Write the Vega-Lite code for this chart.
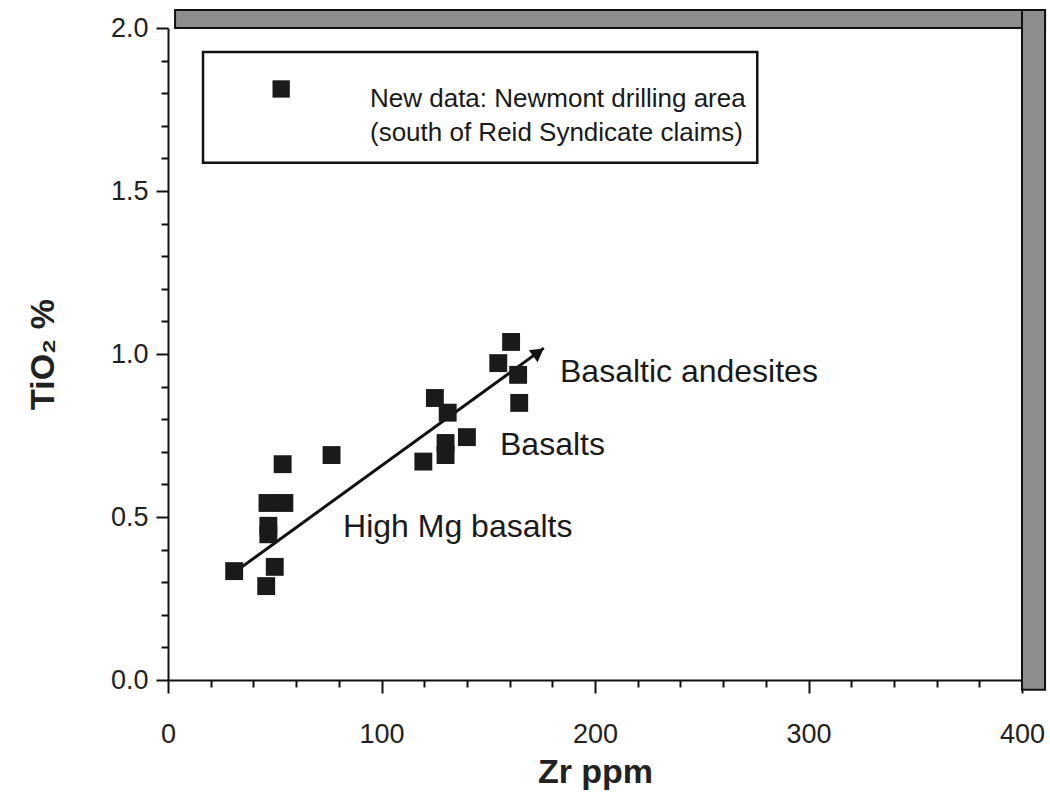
{
  "$schema": "https://vega.github.io/schema/vega-lite/v6.json",
  "width": 854,
  "height": 652,
  "autosize": {"type": "none"},
  "padding": {"left": 168, "top": 28, "right": 28, "bottom": 122},
  "background": "white",
  "config": {
    "view": {"stroke": null},
    "font": "Liberation Sans",
    "axis": {
      "grid": false,
      "domainColor": "#111",
      "domainWidth": 2,
      "tickColor": "#111",
      "tickWidth": 2,
      "labelFont": "Liberation Sans",
      "labelFontSize": 27,
      "labelColor": "#222",
      "titleFont": "Liberation Sans",
      "titleFontSize": 34,
      "titleFontWeight": "bold",
      "titleColor": "#222",
      "labelOverlap": false,
      "labelFlush": false
    }
  },
  "datasets": {
    "samples": [
      {"zr": 31, "tio2": 0.334},
      {"zr": 46, "tio2": 0.288},
      {"zr": 50, "tio2": 0.347},
      {"zr": 47, "tio2": 0.473},
      {"zr": 47, "tio2": 0.447},
      {"zr": 46.6, "tio2": 0.543},
      {"zr": 54.5, "tio2": 0.543},
      {"zr": 53.7, "tio2": 0.662},
      {"zr": 76.6, "tio2": 0.69},
      {"zr": 119.6, "tio2": 0.67},
      {"zr": 130, "tio2": 0.69},
      {"zr": 130, "tio2": 0.727},
      {"zr": 140, "tio2": 0.745},
      {"zr": 125, "tio2": 0.865},
      {"zr": 131, "tio2": 0.82},
      {"zr": 154.7, "tio2": 0.972},
      {"zr": 160.7, "tio2": 1.037},
      {"zr": 164, "tio2": 0.936},
      {"zr": 164.5, "tio2": 0.85}
    ],
    "trend": [
      {"zr": 34.6, "tio2": 0.347},
      {"zr": 176, "tio2": 1.018}
    ],
    "arrowhead": [
      {"zr": 173.5, "tio2": 1.005}
    ],
    "labels": [
      {"zr": 183.6, "tio2": 0.945, "label": "Basaltic andesites"},
      {"zr": 155.5, "tio2": 0.72, "label": "Basalts"},
      {"zr": 82, "tio2": 0.469, "label": "High Mg basalts"}
    ],
    "frame": [
      {"x1": 3.3, "x2": 410.8, "y1": 2.0, "y2": 2.055},
      {"x1": 400, "x2": 410.8, "y1": -0.03, "y2": 2.055}
    ],
    "legendbox": [
      {"x1": 16.4, "x2": 276, "y1": 1.587, "y2": 1.926}
    ],
    "legendsym": [
      {"zr": 53, "tio2": 1.813}
    ],
    "legendtext": [
      {"zr": 94.6, "tio2": 1.782, "label": "New data: Newmont drilling area"},
      {"zr": 94.6, "tio2": 1.678, "label": "(south of Reid Syndicate claims)"}
    ]
  },
  "layer": [
    {
      "data": {"name": "frame"},
      "mark": {"type": "rect", "fill": "#8d8d8d", "stroke": "#111", "strokeWidth": 2},
      "encoding": {
        "x": {"field": "x1", "type": "quantitative", "scale": {"domain": [0, 400]},
          "axis": {
            "title": "Zr ppm",
            "values": [0,20,40,60,80,100,120,140,160,180,200,220,240,260,280,300,320,340,360,380,400],
            "tickCount": 30,
            "labelExpr": "datum.value % 100 === 0 ? datum.label : ''",
            "tickSize": {"condition": {"test": "datum.value % 100 === 0", "value": 13}, "value": 7},
            "labelOverlap": false,
            "labelPadding": 28,
            "titlePadding": 8
          }},
        "x2": {"field": "x2"},
        "y": {"field": "y1", "type": "quantitative", "scale": {"domain": [0, 2]},
          "axis": {
            "title": "TiO₂ %",
            "values": [0,0.1,0.2,0.3,0.4,0.5,0.6,0.7,0.8,0.9,1.0,1.1,1.2,1.3,1.4,1.5,1.6,1.7,1.8,1.9,2.0],
            "tickCount": 30,
            "format": ".1f",
            "labelExpr": "indexof(['0.0','0.5','1.0','1.5','2.0'], datum.label) >= 0 ? datum.label : ''",
            "tickSize": {"condition": {"test": "datum.value === 0 || datum.value === 0.5 || datum.value === 1 || datum.value === 1.5 || datum.value === 2", "value": 12}, "value": 7},
            "labelOverlap": false,
            "labelPadding": 8,
            "titlePadding": 50
          }},
        "y2": {"field": "y2"}
      }
    },
    {
      "data": {"name": "legendbox"},
      "mark": {"type": "rect", "fill": "white", "stroke": "#111", "strokeWidth": 2.5},
      "encoding": {
        "x": {"field": "x1", "type": "quantitative"},
        "x2": {"field": "x2"},
        "y": {"field": "y1", "type": "quantitative"},
        "y2": {"field": "y2"}
      }
    },
    {
      "data": {"name": "legendsym"},
      "mark": {"type": "point", "shape": "square", "filled": true, "color": "#1a1a1a", "size": 300, "opacity": 1},
      "encoding": {
        "x": {"field": "zr", "type": "quantitative"},
        "y": {"field": "tio2", "type": "quantitative"}
      }
    },
    {
      "data": {"name": "legendtext"},
      "mark": {"type": "text", "align": "left", "baseline": "middle", "font": "Liberation Sans", "fontSize": 26, "color": "#1a1a1a"},
      "encoding": {
        "x": {"field": "zr", "type": "quantitative"},
        "y": {"field": "tio2", "type": "quantitative"},
        "text": {"field": "label"}
      }
    },
    {
      "data": {"name": "trend"},
      "mark": {"type": "line", "color": "#111", "strokeWidth": 3},
      "encoding": {
        "x": {"field": "zr", "type": "quantitative"},
        "y": {"field": "tio2", "type": "quantitative"}
      }
    },
    {
      "data": {"name": "arrowhead"},
      "mark": {"type": "point", "shape": "triangle-right", "filled": true, "color": "#111", "size": 220, "angle": 324, "opacity": 1},
      "encoding": {
        "x": {"field": "zr", "type": "quantitative"},
        "y": {"field": "tio2", "type": "quantitative"}
      }
    },
    {
      "data": {"name": "samples"},
      "mark": {"type": "point", "shape": "square", "filled": true, "color": "#1a1a1a", "size": 320, "opacity": 1},
      "encoding": {
        "x": {"field": "zr", "type": "quantitative"},
        "y": {"field": "tio2", "type": "quantitative"}
      }
    },
    {
      "data": {"name": "labels"},
      "mark": {"type": "text", "align": "left", "baseline": "middle", "fontSize": 32, "color": "#1a1a1a"},
      "encoding": {
        "x": {"field": "zr", "type": "quantitative"},
        "y": {"field": "tio2", "type": "quantitative"},
        "text": {"field": "label"}
      }
    }
  ]
}
